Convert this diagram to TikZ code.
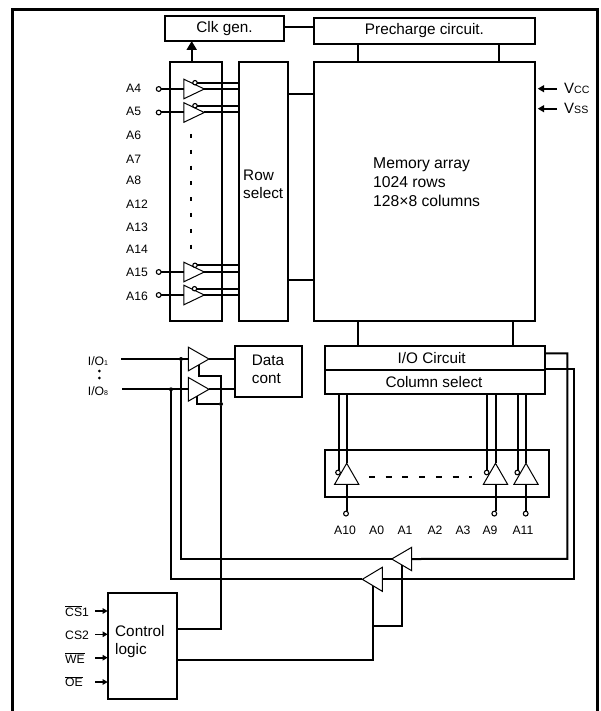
\documentclass[tikz,border=0pt]{standalone}
\usepackage{fontspec}
\setmainfont{Liberation Sans}
\usetikzlibrary{shapes.geometric,arrows.meta}
\newcommand{\ovl}[1]{$\overline{\mbox{#1}}$}
\tikzset{
  frameline/.style={line width=3pt},
  wire/.style={line width=2pt},
  blk/.style={draw,line width=2pt,inner sep=0pt,outer sep=0pt,rectangle},
  tribuf/.style={draw,fill=white,line width=1pt,isosceles triangle,isosceles triangle stretches,inner sep=0pt,outer sep=0pt,anchor=apex},
  bubble/.style={circle,draw,fill=white,line width=1.1pt,inner sep=0pt,outer sep=0pt,minimum size=4.8pt},
  joint/.style={circle,fill=black,inner sep=0pt,outer sep=0pt,minimum size=4pt},
  big/.style={font=\fontsize{15.3}{18}\selectfont},
  lab/.style={font=\fontsize{12.2}{14}\selectfont,inner sep=0pt},
  bigarrow/.style={wire,-{Triangle[length=9pt,width=10pt]}},
  pwrarrow/.style={wire,-{Triangle[length=6.5pt,width=7pt]}},
  pinarrow/.style={line width=1.6pt,-{Triangle[length=5pt,width=5.5pt]}}
}
\begin{document}
\begin{tikzpicture}[x=1pt,y=-1pt]
\useasboundingbox (0,0) rectangle (601,711);
% frame
\coordinate (fbl) at (12.7,711);
\coordinate (ftl) at (12.7,9.7);
\coordinate (ftr) at (597,9.7);
\coordinate (fbr) at (597,711);
\draw[frameline] (fbl) -- (ftl) -- (ftr) -- (fbr);

% main blocks
\node[blk,minimum width=119pt,minimum height=25pt,big] (clk) at (224.5,28.5) {Clk gen.};
\node[blk,minimum width=221pt,minimum height=25.6pt,big] (pre) at (424.5,30.8) {Precharge circuit.};
\node[blk,minimum width=221pt,minimum height=258.7pt] (mem) at (424.5,191.3) {};
\node[blk,minimum width=52pt,minimum height=258.7pt] (addr) at (196,191.3) {};
\node[blk,minimum width=49pt,minimum height=258.7pt] (row) at (263.5,191.3) {};
\node[blk,minimum width=67pt,minimum height=50.7pt] (data) at (268.5,371.3) {};
\node[blk,minimum width=220pt,minimum height=24pt,big] (io) at (435,358) {};
\node[blk,minimum width=220pt,minimum height=24pt,big] (col) at (435,382) {};
\node[blk,minimum width=224.3pt,minimum height=46.7pt] (cbox) at (437.2,473.3) {};
\node[blk,minimum width=69.3pt,minimum height=106.3pt] (ctl) at (142.3,645.8) {};

% block texts
\node[big,inner sep=0pt] (tio) at (431.7,358) {I/O Circuit};
\node[big,inner sep=0pt] (tcol) at (434,382.5) {Column select};
\node[big,inner sep=0pt,anchor=west,align=left] (trow) at (243,184) {Row\\select};
\node[inner sep=0pt,anchor=west,align=left,font=\fontsize{15.7}{19.1}\selectfont] (tmem) at (373,182) {Memory array\\1024 rows\\128×8 columns};
\node[big,inner sep=0pt,anchor=west,align=left] (tdata) at (251.7,369.5) {Data\\cont};
\node[big,inner sep=0pt,anchor=west,align=left] (tctl) at (115,642) {Control\\logic};

% upper connectors
\draw[wire] (clk.east |- 0,27.5) -- (pre.west |- 0,27.5);
\draw[wire] (pre.south -| 358,0) -- (mem.north -| 358,0);
\draw[wire] (pre.south -| 499,0) -- (mem.north -| 499,0);
\draw[bigarrow] (addr.north -| 191.7,0) -- (clk.south -| 191.7,0);
\draw[wire] (row.east |- 0,94) -- (mem.west |- 0,94);
\draw[wire] (row.east |- 0,280) -- (mem.west |- 0,280);
\draw[line width=2pt,dash pattern=on 4pt off 11.8pt] (191,134) coordinate (dtop) -- (191,250) coordinate (dbot);

% address buffers
\foreach \n/\ty/\by/\bx in {a/89/82.7/195, b/112.5/105.7/195, c/272/265.3/195, d/295/288.7/194.5}{
  \node[bubble] (pin\n) at (158.7,\ty) {};
  \node[tribuf,minimum width=19.6pt,minimum height=20.5pt] (tri\n) at (204.3,\ty) {};
  \draw[wire] (pin\n) -- (tri\n.lower side);
  \draw[wire] (tri\n.apex) -- (row.west |- tri\n.apex);
  \node[bubble,minimum size=4.4pt] (en\n) at (\bx,\by) {};
  \draw[wire] (en\n) -- (row.west |- en\n);
}
\foreach \lab/\y in {A4/88,A5/111.7,A6/135.7,A7/159,A8/180.7,A12/204.3,A13/227.7,A14/249,A15/272.3,A16/296}{
  \node[lab,anchor=west] (l\lab) at (126,\y) {\lab};
}

% power
\node[inner sep=0pt,anchor=west,font=\fontsize{15}{18}\selectfont] (vcc) at (564,88.5) {V{\fontsize{10.6}{12}\selectfont CC}};
\node[inner sep=0pt,anchor=west,font=\fontsize{15}{18}\selectfont] (vss) at (564,108.5) {V{\fontsize{10.6}{12}\selectfont SS}};
\coordinate (vccs) at (557,88.7);
\coordinate (vcct) at (537.7,88.7);
\coordinate (vsss) at (557,108.7);
\coordinate (vsst) at (537.7,108.7);
\draw[pwrarrow] (vccs) -- (vcct);
\draw[pwrarrow] (vsss) -- (vsst);

% memory to I/O
\draw[wire] (mem.south -| 357.7,0) -- (io.north -| 357.7,0);
\draw[wire] (mem.south -| 512.7,0) -- (io.north -| 512.7,0);

% I/O buffers
\coordinate (ioin1) at (121,359);
\coordinate (ioin8) at (122,389.3);
\node[tribuf,minimum width=23.7pt,minimum height=20.7pt] (tio1) at (209,359) {};
\node[tribuf,minimum width=23.7pt,minimum height=20.7pt] (tio8) at (209,389.3) {};
\draw[wire] (ioin1) -- (tio1.lower side);
\draw[wire] (ioin8) -- (tio8.lower side);
\draw[wire] (tio1.apex) -- (data.west |- tio1.apex);
\draw[wire] (tio8.apex) -- (data.west |- tio8.apex);
\node[lab,anchor=west] (lio1) at (87.7,361.5) {I/O{\fontsize{7}{8}\selectfont 1}};
\node[lab,anchor=west] (lio8) at (87.7,391.5) {I/O{\fontsize{7}{8}\selectfont 8}};
\node[joint,minimum size=3pt] (d1) at (99.3,371) {};
\node[joint,minimum size=3pt] (d2) at (99.3,378) {};

% return buffers
\coordinate (wa) at (567.3,558.9);
\coordinate (wb) at (574,579.3);
\node[tribuf,rotate=180,minimum width=23.4pt,minimum height=20pt] (tr1) at (391.7,559) {};
\node[tribuf,rotate=180,minimum width=24pt,minimum height=20pt] (tr2) at (362.3,579.3) {};
\node[joint] (j1) at (181,359) {};
\node[joint] (j8) at (171,389.3) {};
\draw[wire] (io.east |- 0,353.3) -| (wa) -- (tr1.lower side);
\draw[wire] (io.east |- 0,369.3) -| (wb) -- (tr2.lower side);
\draw[wire] (tr1.apex) -| (j1);
\draw[wire] (tr2.apex) -| (j8);

% control wires
\coordinate (e1) at (199,364.7);
\coordinate (e8) at (196.7,396.3);
\node[joint] (j2) at (221,404) {};
\draw[wire] (ctl.east |- 0,629) -| (j2) -- (221,375.7) -| (e1);
\draw[wire] (j2) -| (e8);
\coordinate (e2) at (373,585.7);
\coordinate (e3) at (402,565);
\draw[wire] (ctl.east |- 0,660) -| (e2);
\draw[wire] (373,625.7) -| (e3);

% column buffers
\foreach \n/\x/\bx/\lx/\cx in {p/346.7/338/339/346, q/495.5/486.7/487.3/494.3, r/526/517.3/518.3/525.7}{
  \draw[wire] (col.south -| \lx,0) -- (\lx,470);
  \draw[wire] (col.south -| \x,0) -- (\x,463.3);
  \node[tribuf,rotate=90,minimum width=24.2pt,minimum height=21pt] (tc\n) at (\x,463.3) {};
  \node[bubble,minimum size=4.6pt] (bc\n) at (\bx,472.5) {};
  \node[bubble] (pc\n) at (\cx,513.6) {};
  \draw[wire] (tc\n.lower side) -- (tc\n.lower side |- pc\n.north);
}
\draw[line width=2pt,dash pattern=on 6pt off 10.7pt] (369,477.3) coordinate (cdl) -- (472,477.3) coordinate (cdr);
\foreach \lab/\x in {A10/345,A0/376.7,A1/405,A2/435,A3/463,A9/490,A11/523}{
  \node[lab] (c\lab) at (\x,530.7) {\lab};
}

% control pins
\node[lab,anchor=west] (lcs1) at (65,611) {\ovl{CS}1};
\node[lab,anchor=west] (lcs2) at (65,635) {CS2};
\node[lab,anchor=west] (lwe) at (65,658) {\ovl{WE}};
\node[lab,anchor=west] (loe) at (65,681.7) {\ovl{OE}};
\foreach \y in {611,634.3,657.7,682}{
  \draw[pinarrow] (95,\y) -- (ctl.west |- 0,\y);
}
\end{tikzpicture}
\end{document}
